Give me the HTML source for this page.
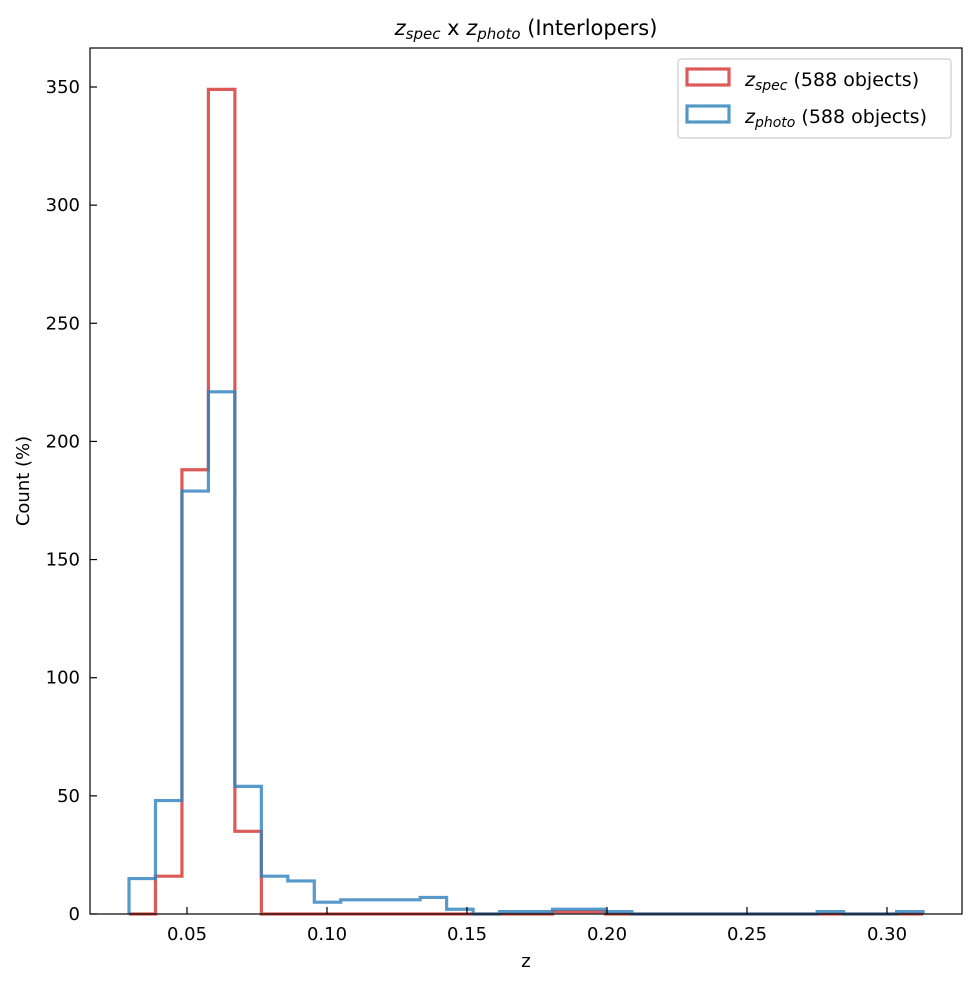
<!DOCTYPE html>
<html><head><meta charset="utf-8">
<style>
body{margin:0;background:#fff;font-family:"DejaVu Sans","Liberation Sans",sans-serif;}
svg{display:block}
</style></head>
<body>
<svg id="chart" width="977" height="985" xmlns="http://www.w3.org/2000/svg" font-family="DejaVu Sans, Liberation Sans, sans-serif">
<text x="526" y="35" font-size="21" text-anchor="middle"><tspan font-style="italic">z</tspan><tspan font-style="italic" font-size="15" dy="4">spec</tspan><tspan dy="-4"> x </tspan><tspan font-style="italic">z</tspan><tspan font-style="italic" font-size="15" dy="4">photo</tspan><tspan dy="-4"> (Interlopers)</tspan></text>
<g id="marks"></g>
<rect x="90" y="48" width="872" height="866" fill="none" stroke="#000" stroke-width="1.2"/>
<g id="axes"></g>
<text x="526" y="967" font-size="18" text-anchor="middle">z</text>
<text x="29" y="481" font-size="18" text-anchor="middle" transform="rotate(-90 29 481)">Count (%)</text>
<g>
<rect x="678" y="59" width="273" height="79" rx="3" fill="#fff" stroke="#ccc" stroke-width="1.2"/>
<rect x="687" y="69" width="42" height="16" fill="none" stroke="#dc5a57" stroke-width="3.2"/>
<text x="745" y="86" font-size="19"><tspan font-style="italic">z</tspan><tspan font-style="italic" font-size="14" dy="4">spec</tspan><tspan dy="-4"> (588 objects)</tspan></text>
<rect x="687" y="106" width="42" height="16" fill="none" stroke="#5399c6" stroke-width="3.2"/>
<text x="745" y="123" font-size="19"><tspan font-style="italic">z</tspan><tspan font-style="italic" font-size="14" dy="4">photo</tspan><tspan dy="-4"> (588 objects)</tspan></text>
</g>
</svg>
<script>
const binStart = 0.02929;
const binWidth = 0.009453;
const specCounts = [0,16,188,349,35,0,0,0,0,0,0,0,0,0,0,0,1,1,0,0,0,0,0,0,0,0,0,0,0,0];
const photoCounts = [15,48,179,221,54,16,14,5,6,6,6,7,2,0,1,1,2,2,1,0,0,0,0,0,0,0,1,0,0,1];
const xTicks = [0.05,0.10,0.15,0.20,0.25,0.30];
const xTickLabels = ["0.05","0.10","0.15","0.20","0.25","0.30"];
const yTicks = [0,50,100,150,200,250,300,350];

const NS="http://www.w3.org/2000/svg";
function xs(z){return 47+(z)*2800;}
function ys(v){return 914-v*(827/350);}
function stepPath(counts){
  let d="M"+xs(binStart)+","+ys(0);
  counts.forEach((c,i)=>{
    const x0=xs(binStart+i*binWidth), x1=xs(binStart+(i+1)*binWidth);
    d+=" L"+x0+","+ys(c)+" L"+x1+","+ys(c);
  });
  d+=" L"+xs(binStart+counts.length*binWidth)+","+ys(0);
  return d;
}
const marks=document.getElementById('marks');
const pr=document.createElementNS(NS,'path');


pr.setAttribute('d',stepPath(specCounts));
pr.setAttribute('fill','none');pr.setAttribute('stroke','#dc5a57');pr.setAttribute('stroke-width','3.2');
marks.appendChild(pr);
const pb=document.createElementNS(NS,'path');


pb.setAttribute('d',stepPath(photoCounts));
pb.setAttribute('fill','none');pb.setAttribute('stroke','rgba(50,130,190,0.82)');pb.setAttribute('stroke-width','3.2');
marks.appendChild(pb);

const axes=document.getElementById('axes');
xTicks.forEach((t,i)=>{
  const x=xs(t);
  const l=document.createElementNS(NS,'line');
  
  
  l.setAttribute('x1',x);l.setAttribute('x2',x);l.setAttribute('y1',914);l.setAttribute('y2',907);
  l.setAttribute('stroke','#000');l.setAttribute('stroke-width','1.2');
  axes.appendChild(l);
  const tx=document.createElementNS(NS,'text');
  
  
  tx.setAttribute('x',x);tx.setAttribute('y',940);tx.setAttribute('font-size','18');tx.setAttribute('text-anchor','middle');
  tx.textContent=xTickLabels[i];
  axes.appendChild(tx);
});
yTicks.forEach(t=>{
  const y=ys(t);
  const l=document.createElementNS(NS,'line');
  
  
  l.setAttribute('x1',90);l.setAttribute('x2',97);l.setAttribute('y1',y);l.setAttribute('y2',y);
  l.setAttribute('stroke','#000');l.setAttribute('stroke-width','1.2');
  axes.appendChild(l);
  const tx=document.createElementNS(NS,'text');
  
  
  tx.setAttribute('x',80);tx.setAttribute('y',y+6);tx.setAttribute('font-size','18');tx.setAttribute('text-anchor','end');
  tx.textContent=String(t);
  axes.appendChild(tx);
});
</script>
</body></html>
